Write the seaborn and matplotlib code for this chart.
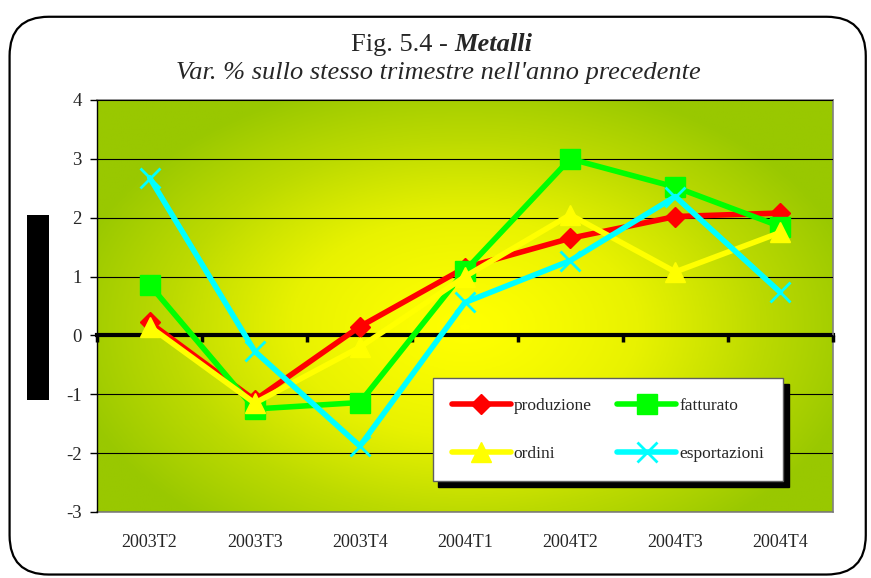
import numpy as np
import pandas as pd
import matplotlib
matplotlib.use("Agg")
import matplotlib.pyplot as plt
import seaborn as sns
from matplotlib.patches import FancyBboxPatch, Rectangle
from matplotlib.colors import LinearSegmentedColormap

periodi = ["2003T2", "2003T3", "2003T4", "2004T1", "2004T2", "2004T3", "2004T4"]
produzione = [0.22, -1.1, 0.15, 1.15, 1.65, 2.02, 2.08]
fatturato = [0.86, -1.25, -1.14, 1.1, 3.0, 2.52, 1.85]
ordini = [0.15, -1.15, -0.2, 1.0, 2.05, 1.08, 1.75]
esportazioni = [2.68, -0.27, -1.88, 0.56, 1.27, 2.36, 0.73]
y_ticks = [-3, -2, -1, 0, 1, 2, 3, 4]

sns.set_theme(style="white")
plt.rcParams["font.family"] = ["Liberation Serif", "DejaVu Serif"]

fig = plt.figure(figsize=(8.71, 5.78), dpi=100)
fig.patch.set_facecolor("white")

# rounded frame
frame = FancyBboxPatch((0.011, 0.006), 0.983, 0.965, boxstyle="round,pad=0,rounding_size=0.045",
                       transform=fig.transFigure, facecolor="none", edgecolor="black", lw=1.6,
                       mutation_aspect=871/578)
fig.patches.append(frame)
fig.patches.append(Rectangle((0.031, 0.308), 0.0253, 0.32, transform=fig.transFigure,
                             facecolor="black", edgecolor="none"))

ax = fig.add_axes([0.1114, 0.1142, 0.845, 0.7128])

# radial gradient background
ny, nx = 300, 500
xx, yy = np.meshgrid(np.linspace(0, 1, nx), np.linspace(0, 1, ny))
d = np.sqrt(((xx - 0.5) / 0.55) ** 2 + ((yy - 0.45) / 0.62) ** 2)
d = np.clip(d, 0, 1) ** 1.3
cmap = LinearSegmentedColormap.from_list("g", ["#FFFF00", "#E8F200", "#BCDA00", "#99C800"])
ax.imshow(d, cmap=cmap, vmin=0, vmax=1, extent=[0, 1, 0, 1], origin="lower",
          transform=ax.transAxes, aspect="auto", zorder=0, interpolation="bilinear")

series = [
    ("produzione", produzione, "#FF0000", "D", 10),
    ("fatturato", fatturato, "#00FF00", "s", 14),
    ("ordini", ordini, "#FFFF00", "^", 14),
    ("esportazioni", esportazioni, "#00FFFF", "x", 15),
]
x_idx = list(range(len(periodi)))
for name, vals, col, mk, ms in series:
    df = pd.DataFrame({"x": x_idx, "v": vals})
    sns.lineplot(data=df, x="x", y="v", ax=ax, color=col, lw=4, marker=mk,
                 markersize=ms, markeredgecolor=col, markerfacecolor=col,
                 markeredgewidth=2 if mk == "x" else 1, label=name, zorder=3)

ax.set_xlim(-0.5, len(periodi) - 0.5)
ax.set_ylim(-3, 4)
ax.set_xlabel("")
ax.set_ylabel("")
ax.set_yticks(y_ticks)
ax.set_yticklabels([str(t) for t in y_ticks], fontsize=13.5)
ax.yaxis.grid(True, color="black", lw=0.8, zorder=1)
ax.set_axisbelow(False)
for gl in ax.get_ygridlines():
    gl.set_zorder(1)
ax.tick_params(axis="y", direction="out", length=5, width=1, color="black", pad=6, left=True)

# x axis at zero with boundary ticks
ax.spines["bottom"].set_position(("data", 0))
ax.spines["bottom"].set_linewidth(3)
ax.spines["bottom"].set_color("black")
ax.spines["bottom"].set_zorder(2)
ax.set_xticks(x_idx)
ax.set_xticklabels([])
ax.tick_params(axis="x", which="major", length=0)
ax.set_xticks(np.arange(-0.5, len(periodi), 1.0), minor=True)
ax.tick_params(axis="x", which="minor", direction="out", length=5, width=2.5, color="black", bottom=True)
ax.spines["left"].set_color("black")
ax.spines["left"].set_linewidth(1)
for s in ["top", "right"]:
    ax.spines[s].set_color("#808080")
    ax.spines[s].set_linewidth(1.2)

sec = ax.secondary_xaxis("bottom")
sec.set_xticks(x_idx)
sec.set_xticklabels(periodi, fontsize=13)
sec.tick_params(length=0, pad=16)
sec.spines["bottom"].set_color("#808080")
sec.spines["bottom"].set_linewidth(1.2)

handles, labels = ax.get_legend_handles_labels()
order = [0, 2, 1, 3]
leg = ax.legend([handles[i] for i in order], [labels[i] for i in order],
                loc="lower left", bbox_to_anchor=(0.456, 0.075, 0.476, 0.25), mode="expand",
                ncol=2, frameon=True, fancybox=False, edgecolor="#606060", facecolor="white",
                framealpha=1, shadow={"color": "black", "alpha": 1, "ox": 4, "oy": -4},
                fontsize=12.5, handlelength=3.4, handletextpad=0.15, labelspacing=1.85,
                borderaxespad=0, borderpad=1.1, columnspacing=1.5)
leg.set_zorder(5)

# titles
fam = ["Liberation Serif", "DejaVu Serif"]
fig.text(0.522, 0.912, "Fig. 5.4 - ", ha="right", va="baseline", fontsize=19, family=fam)
fig.text(0.522, 0.912, "Metalli", ha="left", va="baseline", fontsize=19, fontweight="bold",
         fontstyle="italic", family=fam)
fig.text(0.503, 0.863, "Var. % sullo stesso trimestre nell'anno precedente", ha="center",
         va="baseline", fontsize=19, fontstyle="italic", family=fam)

fig.savefig("out.png", dpi=100)
